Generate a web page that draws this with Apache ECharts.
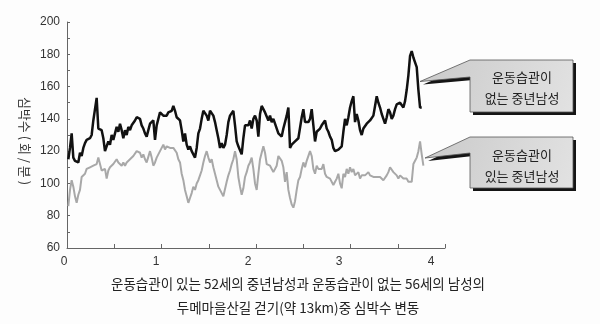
<!DOCTYPE html>
<html><head><meta charset="utf-8">
<script src="https://cdn.jsdelivr.net/npm/echarts/dist/echarts.min.js"></script>
<style>html,body{margin:0;padding:0;background:#fdfdfd}#c{width:600px;height:324px}</style>
</head><body><div id="c"></div>
<script>
// ---- data ----
const xTickLabels = ['0', '1', '2', '3', '4'];          // hours
const yTickLabels = ['60', '80', '100', '120', '140', '160', '180', '200'];
const startHour = 0.014;      // first sample (h)
const stepHour = 0.01764;     // sampling interval (h)
// 운동습관이 없는 56세 남성 (black)
const noHabitBpm = [
115,122,131,116,114,115,113,119,117,122,125,127,127,128,130,139,146,153,134,133,
133,128,120,119,126,124,130,127,131,135,132,137,133,128,133,130,135,133,136,137,
139,141,141,140,136,134,131,129,133,
137,138,139,127,136,140,144,144,142,143,142,144,143,145,148,145,141,140,139,133,
126,131,124,121,123,120,119,116,122,131,134,140,145,146,142,139,145,146,142,138,
133,128,122,125,122,124,130,138,142,141,145,136,126,123,124,118,128,
136,137,136,139,134,140,142,139,129,143,148,146,144,144,139,142,138,140,137,136,
131,132,129,134,138,142,147,122,124,123,126,125,128,127,141,146,138,139,138,140,
146,136,126,132,133,134,136,137,139,134,132,129,127,122,120,121,121,
122,123,132,140,136,141,147,151,154,138,143,139,133,130,134,133,137,136,139,140,
142,148,154,150,147,143,140,137,141,146,144,140,142,146,149,148,150,149,147,151,
158,167,179,182,178,175,172,158,147,147
];
// 운동습관이 있는 52세 중년남성 (gray)
const habitBpm = [
86,96,102,98,92,88,93,96,104,105,106,109,109,110,109,111,110,112,116,112,
108,107,109,103,108,110,111,112,113,115,113,114,111,113,111,113,114,115,115,117,
118,120,121,119,116,118,115,113,114,
120,116,111,113,116,118,120,122,124,121,123,122,122,121,122,121,119,115,113,106,
102,96,92,88,91,94,98,96,100,102,105,108,113,117,120,116,113,115,110,106,
102,98,96,94,92,93,101,105,108,112,115,120,115,104,98,93,97,
104,107,111,113,116,109,100,96,106,115,119,123,119,112,111,111,110,107,106,111,
117,118,114,110,101,107,96,91,87,85,89,96,102,104,109,113,110,114,115,120,
117,109,106,111,109,110,109,112,106,104,105,103,102,99,101,103,106,
100,97,106,104,109,106,110,107,109,105,104,107,103,105,104,105,106,107,105,106,
104,105,104,104,104,104,102,101,105,107,110,111,107,106,105,103,105,104,103,102,
103,101,102,101,112,114,116,120,126,118,111
];
const seriesNames = ['운동습관이 없는 중년남성', '운동습관이 있는 중년남성'];
const calloutTexts = ['운동습관이\n없는 중년남성', '운동습관이\n있는 중년남성'];
const yAxisName = '심박수 ( 회 / 분 )';
const captionLines = ['운동습관이 있는 52세의 중년남성과 운동습관이 없는 56세의 남성의',
                      '두메마을산길 걷기(약 13km)중 심박수 변동'];

const toPairs = arr => arr.map((v, i) => [startHour + i * stepHour, v]);

const chart = echarts.init(document.getElementById('c'), null, {renderer: 'canvas'});
const numFont = 'Liberation Sans, Arial, sans-serif';
const krFont = 'Noto Sans CJK KR, sans-serif';
const labelShift = {0: 6, 1: 11, 2: 16, 3: 23, 4: 28};
const rich = {};
xTickLabels.forEach(t => { rich['s' + t] = {padding: [0, labelShift[t], 0, 0], fontSize: 12, fontFamily: numFont, color: '#333'}; });

function callout(points, text, cx, cy) {
  const shadow = points.map(p => [p[0] + 3, p[1] + 3]);
  return [
    {type: 'polygon', shape: {points: shadow}, style: {fill: '#151515'}, z: 10},
    {type: 'polygon', shape: {points: points},
      style: {fill: new echarts.graphic.LinearGradient(0, 0, 1, 1, [
        {offset: 0, color: '#cacaca'}, {offset: 1, color: '#e2e2e2'}]),
        stroke: '#555', lineWidth: 0.8}, z: 11},
    {type: 'text', x: cx, y: cy, z: 12,
      style: {text: text, fill: '#222', font: '13px ' + krFont, align: 'center', verticalAlign: 'middle', lineHeight: 21}}
  ];
}

const option = {
  animation: false,
  backgroundColor: '#fdfdfd',
  grid: {left: 67, right: 155, top: 22, bottom: 76},
  xAxis: {
    type: 'value', min: 0, max: 4, interval: 0.5,
    axisLine: {lineStyle: {color: '#666', width: 1}},
    axisTick: {inside: true, length: 4, lineStyle: {color: '#666'}},
    splitLine: {show: false},
    axisLabel: {
      margin: 8,
      formatter: v => (Number.isInteger(v) && xTickLabels.includes(String(v))) ? '{s' + v + '|' + v + '}' : '',
      rich: rich
    }
  },
  yAxis: {
    type: 'value', min: 60, max: 200, interval: 10,
    axisLine: {show: true, lineStyle: {color: '#666', width: 1}},
    axisTick: {inside: true, length: 3, lineStyle: {color: '#666'}},
    splitLine: {show: false},
    axisLabel: {
      margin: 7, fontSize: 12, fontFamily: numFont, color: '#333', padding: [5, 0, 0, 0],
      formatter: v => yTickLabels.includes(String(v)) ? String(v) : ''
    }
  },
  series: [
    {name: seriesNames[1], type: 'line', data: toPairs(habitBpm), showSymbol: false,
      lineStyle: {color: '#a8a8a8', width: 2}, z: 2},
    {name: seriesNames[0], type: 'line', data: toPairs(noHabitBpm), showSymbol: false,
      lineStyle: {color: '#111', width: 2.5}, z: 3}
  ],
  graphic: [
    ...callout([[470,60],[573,60],[573,112],[470,112],[470,77],[420,81.5]], calloutTexts[0], 522, 87.5),
    ...callout([[470,137],[573,137],[573,188],[470,188],[470,153],[425,158]], calloutTexts[1], 522, 166),
    {type: 'text', x: 25, y: 141, rotation: -Math.PI / 2,
      style: {text: yAxisName, fill: '#333', font: '13px ' + krFont, align: 'center', verticalAlign: 'middle'}},
    {type: 'text', x: 298, y: 284, style: {text: captionLines[0], fill: '#222', font: '13.5px ' + krFont, align: 'center', verticalAlign: 'middle'}},
    {type: 'text', x: 298, y: 308, style: {text: captionLines[1], fill: '#222', font: '13.5px ' + krFont, align: 'center', verticalAlign: 'middle'}}
  ]
};
chart.setOption(option);
</script>
</body></html>
